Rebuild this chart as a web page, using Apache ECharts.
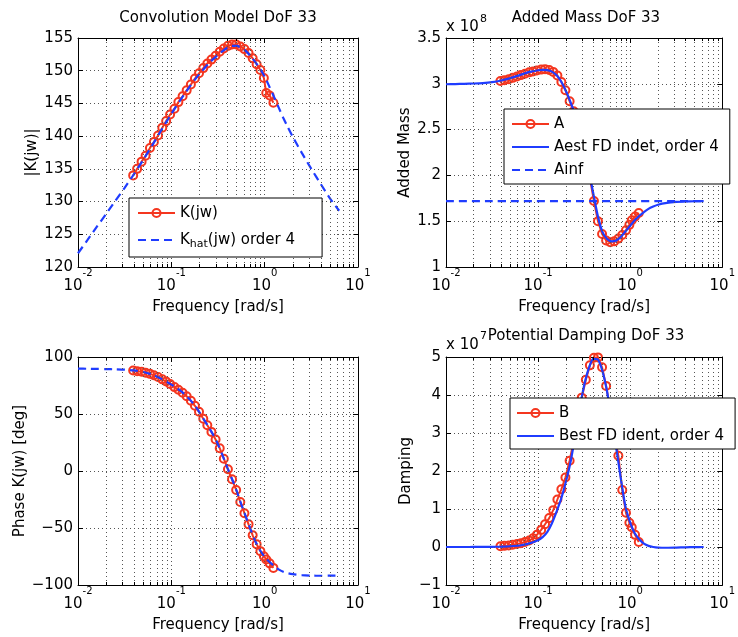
<!DOCTYPE html>
<html>
<head>
<meta charset="utf-8">
<script src="https://cdn.jsdelivr.net/npm/echarts@6/dist/echarts.min.js"></script>
<style>
  html, body { margin: 0; padding: 0; background: #fff; }
  #chart { width: 738px; height: 637px; }
</style>
</head>
<body>
<div id="chart"></div>
<script>
// ---- Data -----------------------------------------------------------------
// Frequencies (rad/s) of the hydrodynamic data set
const omegaMeas = [0.039, 0.043, 0.048, 0.053, 0.059, 0.065, 0.072, 0.080, 0.088, 0.097,
  0.108, 0.119, 0.132, 0.146, 0.162, 0.179, 0.198, 0.220, 0.243, 0.269,
  0.298, 0.330, 0.365, 0.404, 0.447, 0.495, 0.548, 0.607, 0.672, 0.744,
  0.82, 0.90, 0.98, 1.04, 1.13, 1.24];

// Frequencies (rad/s) at which the identified order-4 model is evaluated
const omegaFit = [0.01, 0.0126, 0.0158, 0.02, 0.0251, 0.0316, 0.0398, 0.0501, 0.0631, 0.0794,
  0.1, 0.112, 0.126, 0.141, 0.158, 0.178, 0.2, 0.224, 0.251, 0.282,
  0.316, 0.355, 0.398, 0.447, 0.501, 0.562, 0.631, 0.708, 0.794, 0.891,
  1.0, 1.12, 1.26, 1.41, 1.58, 1.78, 2.0, 2.51, 3.16, 3.98, 5.01, 6.28];

// |K(jw)| in dB
const magMeasDb = [134.0, 135.0, 136.1, 137.0, 138.2, 139.1, 140.1, 141.3, 142.3, 143.3,
  144.2, 145.2, 146.1, 147.0, 147.9, 148.8, 149.6, 150.4, 151.1, 151.7,
  152.3, 152.9, 153.4, 153.8, 154.0, 154.0, 153.7, 153.3, 152.7, 151.9,
  151.0, 150.1, 148.9, 146.6, 146.2, 145.1];
const magFitDb = [122.1, 124.1, 126.1, 128.1, 130.1, 132.1, 134.2, 136.4, 138.7, 141.1,
  143.4, 144.5, 145.6, 146.6, 147.6, 148.6, 149.5, 150.3, 151.1, 151.8,
  152.4, 153.0, 153.5, 153.8, 153.8, 153.5, 153.0, 152.2, 151.3, 150.3,
  149.1, 147.6, 146.0, 144.4, 142.8, 141.3, 139.9, 137.4, 135.0, 132.7, 130.5, 128.6];

// Phase of K(jw) in degrees
const phaseMeasDeg = [88.1, 87.6, 87.0, 86.2, 85.2, 84.0, 82.4, 80.4, 78.5, 76.3,
  73.6, 71.2, 68.6, 65.6, 61.6, 57.2, 51.9, 45.9, 40.1, 34.3,
  27.6, 20.0, 10.8, 1.5, -7.3, -16.6, -27.2, -37.0, -46.8, -56.4,
  -64.3, -70.3, -74.8, -77.6, -81.0, -85.0];
const phaseFitDeg = [89.8, 89.7, 89.6, 89.4, 89.2, 88.9, 88.2, 86.8, 84.4, 80.6,
  75.8, 73.2, 70.2, 66.8, 62.6, 57.6, 51.5, 45.0, 38.5, 31.5,
  23.5, 13.5, 3.0, -7.0, -17.5, -29.3, -40.5, -51.5, -61.5, -69.5,
  -75.3, -79.6, -83.2, -86.3, -88.4, -89.7, -90.5, -91.4, -91.8, -91.9, -91.8, -91.7];

// Added mass, in units of 1e8
const addedMassMeas = [3.03, 3.04, 3.05, 3.065, 3.08, 3.095, 3.11, 3.125, 3.135, 3.145,
  3.155, 3.16, 3.15, 3.13, 3.09, 3.02, 2.93, 2.81, 2.70, 2.55,
  2.38, 2.19, 1.97, 1.72, 1.50, 1.36, 1.29, 1.27, 1.28, 1.31,
  1.35, 1.40, 1.46, 1.51, 1.55, 1.59];
const addedMassFit = [2.995, 2.997, 3.0, 3.003, 3.008, 3.018, 3.036, 3.062, 3.095, 3.127,
  3.148, 3.153, 3.150, 3.133, 3.095, 3.025, 2.925, 2.805, 2.665, 2.495,
  2.29, 2.055, 1.80, 1.55, 1.38, 1.305, 1.28, 1.29, 1.33, 1.39,
  1.45, 1.51, 1.56, 1.60, 1.635, 1.66, 1.68, 1.70, 1.71, 1.715, 1.718, 1.72];
const addedMassInf = 1.72;
const ainfOmega = [0.01, 6.28];

// Potential damping, in units of 1e7
const dampingMeas = [0.02, 0.03, 0.04, 0.06, 0.08, 0.10, 0.13, 0.17, 0.23, 0.32,
  0.45, 0.60, 0.76, 0.97, 1.25, 1.52, 1.83, 2.27, 2.78, 3.35,
  3.93, 4.40, 4.78, 4.98, 4.99, 4.73, 4.24, 3.62, 2.96, 2.40,
  1.50, 0.90, 0.64, 0.52, 0.32, 0.13];
const dampingFit = [0.0, 0.0, 0.0, 0.001, 0.002, 0.004, 0.01, 0.02, 0.04, 0.09,
  0.18, 0.26, 0.40, 0.62, 0.92, 1.27, 1.71, 2.21, 2.88, 3.62,
  4.25, 4.70, 4.95, 4.93, 4.62, 4.08, 3.32, 2.58, 1.78, 1.05,
  0.64, 0.36, 0.20, 0.09, 0.03, 0.0, -0.015, -0.02, -0.015, -0.008, -0.003, 0.0];

// Axis ranges and tick labels
const freqRange = [0.01, 10];
const decadeExponents = ['-2', '-1', '0', '1'];
const minorFreqs = [0.02, 0.03, 0.04, 0.05, 0.06, 0.07, 0.08, 0.09,
  0.2, 0.3, 0.4, 0.5, 0.6, 0.7, 0.8, 0.9,
  2, 3, 4, 5, 6, 7, 8, 9];
const magRange = { min: 120, max: 155, interval: 5 };
const addedMassRange = { min: 1, max: 3.5, interval: 0.5 };
const phaseRange = { min: -100, max: 100, interval: 50 };
const dampingRange = { min: -1, max: 5, interval: 1 };

// ---- Styling --------------------------------------------------------------
const FONT = 'DejaVu Sans';
const INK = '#000';
const RED = '#f4361f';
const BLUE = '#1f3cff';
const dotted = { color: '#555', width: 1, type: [1, 3] };
const MINOR_TICK_PX = 3;

const pairs = (xs, ys) => xs.map((x, i) => [x, ys[i]]);
const signed = v => (v < 0 ? '\u2212' + (-v) : String(v));
const decadeLabel = v => {
  const e = Math.round(Math.log10(v));
  return '{b|10}{e|' + decadeExponents[e + 2] + '}';
};

const panels = [
  { box: { left: 78, top: 38, width: 280, height: 229 }, range: magRange, yName: '|K(jw)|', yGap: 38 },
  { box: { left: 446, top: 38, width: 280, height: 229 }, range: addedMassRange, yName: 'Added Mass', yGap: 33 },
  { box: { left: 78, top: 357, width: 280, height: 228 }, range: phaseRange, yName: 'Phase K(jw) [deg]', yGap: 50 },
  { box: { left: 446, top: 357, width: 280, height: 228 }, range: dampingRange, yName: 'Damping', yGap: 32 }
];

const nameText = { fontFamily: FONT, fontSize: 15, color: INK };

const grids = panels.map(p => Object.assign({ show: false }, p.box));

const xBottom = panels.map((p, i) => ({
  type: 'log', logBase: 10, gridIndex: i, min: freqRange[0], max: freqRange[1], position: 'bottom',
  axisLine: { show: true, onZero: false, lineStyle: { color: INK, width: 1 } },
  axisTick: { show: true, inside: true, length: 5, lineStyle: { color: INK } },
  axisLabel: {
    margin: 1, color: INK, formatter: decadeLabel,
    rich: {
      b: { fontFamily: FONT, fontSize: 15, lineHeight: 26, color: INK, verticalAlign: 'bottom' },
      e: { fontFamily: FONT, fontSize: 10, lineHeight: 10, color: INK, verticalAlign: 'top' }
    }
  },
  splitLine: { show: true, lineStyle: dotted },
  name: 'Frequency [rad/s]', nameLocation: 'middle', nameGap: 33, nameTextStyle: nameText
}));

const xTop = panels.map((p, i) => ({
  type: 'log', logBase: 10, gridIndex: i, min: freqRange[0], max: freqRange[1], position: 'top',
  axisLine: { show: true, onZero: false, lineStyle: { color: INK, width: 1 } },
  axisTick: { show: true, inside: true, length: 5, lineStyle: { color: INK } },
  axisLabel: { show: false },
  splitLine: { show: false }
}));

const yLeft = panels.map((p, i) => ({
  type: 'value', gridIndex: i, min: p.range.min, max: p.range.max, interval: p.range.interval, position: 'left',
  axisLine: { show: true, onZero: false, lineStyle: { color: INK, width: 1 } },
  axisTick: { show: true, inside: true, length: 5, lineStyle: { color: INK } },
  axisLabel: { margin: 5, color: INK, fontFamily: FONT, fontSize: 15, formatter: signed },
  splitLine: { show: true, lineStyle: dotted },
  name: p.yName, nameLocation: 'middle', nameGap: p.yGap, nameTextStyle: nameText
}));

const yRight = panels.map((p, i) => ({
  type: 'value', gridIndex: i, min: p.range.min, max: p.range.max, interval: p.range.interval, position: 'right',
  axisLine: { show: true, onZero: false, lineStyle: { color: INK, width: 1 } },
  axisTick: { show: true, inside: true, length: 5, lineStyle: { color: INK } },
  axisLabel: { show: false },
  splitLine: { show: false }
}));

// Dotted vertical grid at the 2..9 positions of every decade, plus short
// inward minor ticks on the bottom and top edges of each box
const minorGrid = (idx) => {
  const p = panels[idx];
  const tick = (p.range.max - p.range.min) / p.box.height * MINOR_TICK_PX;
  const solid = { type: 'solid', color: INK, width: 1 };
  const items = minorFreqs.map(v => ({ xAxis: v }));
  minorFreqs.forEach(v => {
    items.push([{ coord: [v, p.range.min], lineStyle: solid }, { coord: [v, p.range.min + tick] }]);
    items.push([{ coord: [v, p.range.max], lineStyle: solid }, { coord: [v, p.range.max - tick] }]);
  });
  return {
    name: 'minor grid ' + idx, type: 'line', xAxisIndex: idx, yAxisIndex: idx, data: [],
    silent: true, z: 1,
    markLine: {
      silent: true, symbol: ['none', 'none'], label: { show: false }, animation: false,
      lineStyle: dotted, emphasis: { disabled: true },
      data: items
    }
  };
};

const measured = (name, idx, ys) => ({
  name, type: 'line', xAxisIndex: idx, yAxisIndex: idx,
  data: pairs(omegaMeas, ys),
  symbol: 'circle', symbolSize: 8, showSymbol: true,
  lineStyle: { color: RED, width: 2 },
  itemStyle: { color: 'rgba(255,255,255,0)', borderColor: RED, borderWidth: 2 },
  z: 3
});

const fitted = (name, idx, xs, ys, dashed) => ({
  name, type: 'line', xAxisIndex: idx, yAxisIndex: idx,
  data: pairs(xs, ys),
  symbol: 'none', smooth: 0.25,
  lineStyle: { color: BLUE, width: 2.2, type: dashed ? [8, 5] : 'solid' },
  itemStyle: { color: BLUE },
  z: 4
});

const series = [
  minorGrid(0), minorGrid(1), minorGrid(2), minorGrid(3),
  measured('K(jw)', 0, magMeasDb),
  fitted('K_hat(jw) order 4', 0, omegaFit, magFitDb, true),
  measured('A', 1, addedMassMeas),
  fitted('Aest FD indet, order 4', 1, omegaFit, addedMassFit, false),
  fitted('Ainf', 1, ainfOmega, ainfOmega.map(() => addedMassInf), true),
  measured('K(jw) phase', 2, phaseMeasDeg),
  fitted('K_hat(jw) phase', 2, omegaFit, phaseFitDeg, true),
  measured('B', 3, dampingMeas),
  fitted('Best FD ident, order 4', 3, omegaFit, dampingFit, false)
];

// Line-only legend entries: hide the marker that the legend icon adds
const lineOnly = name => ({ name, itemStyle: { opacity: 0 } });

const legendBase = {
  orient: 'vertical', itemWidth: 37, itemHeight: 10, selectedMode: false,
  backgroundColor: '#fff', borderColor: INK, borderWidth: 1, borderRadius: 0, z: 10,
  textStyle: { fontFamily: FONT, fontSize: 15, color: INK, lineHeight: 18 }
};

const legends = [
  Object.assign({}, legendBase, {
    data: ['K(jw)', lineOnly('K_hat(jw) order 4')], left: 129, top: 198, padding: [5, 27, 7, 8], itemGap: 7,
    formatter: n => (n === 'K_hat(jw) order 4' ? 'K{sub|hat}(jw) order 4' : n),
    textStyle: {
      fontFamily: FONT, fontSize: 15, color: INK, lineHeight: 20,
      rich: { sub: { fontFamily: FONT, fontSize: 11, lineHeight: 9, color: INK, verticalAlign: 'bottom' } }
    }
  }),
  Object.assign({}, legendBase, {
    data: ['A', lineOnly('Aest FD indet, order 4'), lineOnly('Ainf')], left: 504, top: 109, padding: [6, 11, 5, 7], itemGap: 5
  }),
  Object.assign({}, legendBase, {
    data: ['B', lineOnly('Best FD ident, order 4')], left: 510, top: 398, padding: [6, 11, 4, 6], itemGap: 5
  })
];

const titleStyle = { fontFamily: FONT, fontSize: 15, fontWeight: 'normal', color: INK };
const titles = [
  { text: 'Convolution Model DoF 33', left: 218, top: 11, textAlign: 'center', padding: 0, textStyle: titleStyle },
  { text: 'Added Mass DoF 33', left: 586, top: 11, textAlign: 'center', padding: 0, textStyle: titleStyle },
  { text: 'Potential Damping DoF 33', left: 586, top: 329, textAlign: 'center', padding: 0, textStyle: titleStyle }
];

// Axis multipliers for the added mass and damping panels
const graphics = [
  { type: 'text', left: 446, top: 20, style: { text: 'x 10', font: '15px "DejaVu Sans"', fill: INK } },
  { type: 'text', left: 480, top: 14, style: { text: '8', font: '11px "DejaVu Sans"', fill: INK } },
  { type: 'text', left: 446, top: 338, style: { text: 'x 10', font: '15px "DejaVu Sans"', fill: INK } },
  { type: 'text', left: 480, top: 331, style: { text: '7', font: '11px "DejaVu Sans"', fill: INK } }
];

const chart = echarts.init(document.getElementById('chart'));
chart.setOption({
  animation: false,
  backgroundColor: '#fff',
  textStyle: { fontFamily: FONT },
  title: titles,
  grid: grids,
  xAxis: xBottom.concat(xTop),
  yAxis: yLeft.concat(yRight),
  legend: legends,
  graphic: graphics,
  series: series
});
</script>
</body>
</html>
